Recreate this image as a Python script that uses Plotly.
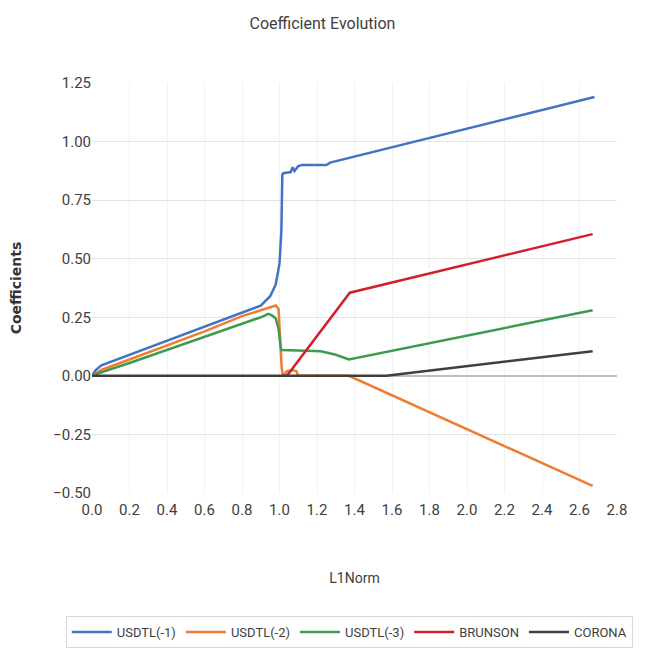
import plotly.graph_objects as go

# L1-norm path of the lasso coefficients
usdtl1_x = [0, 0.02, 0.05, 0.2, 0.4, 0.6, 0.8, 0.9, 0.95, 0.98, 1.0, 1.01, 1.015, 1.02,
            1.06, 1.07, 1.08, 1.1, 1.12, 1.25, 1.27, 2.68]
usdtl1_y = [0, 0.025, 0.045, 0.09, 0.15, 0.21, 0.27, 0.30, 0.34, 0.39, 0.48, 0.62, 0.86, 0.865,
            0.87, 0.89, 0.875, 0.895, 0.90, 0.90, 0.91, 1.19]

usdtl2_x = [0, 0.05, 0.2, 0.4, 0.6, 0.8, 0.9, 0.95, 0.98, 0.995, 1.005, 1.012, 1.02,
            1.04, 1.07, 1.09, 1.1, 1.37, 2.67]
usdtl2_y = [0, 0.025, 0.07, 0.13, 0.19, 0.255, 0.28, 0.295, 0.30, 0.285, 0.15, 0.03, 0.0,
            0.02, 0.025, 0.02, 0.0, 0.0, -0.47]

usdtl3_x = [0, 0.05, 0.2, 0.4, 0.6, 0.8, 0.9, 0.94, 0.96, 0.98, 0.995, 1.005, 1.01,
            1.1, 1.22, 1.25, 1.3, 1.37, 2.67]
usdtl3_y = [0, 0.015, 0.055, 0.11, 0.165, 0.22, 0.25, 0.265, 0.258, 0.245, 0.2, 0.13, 0.11,
            0.108, 0.105, 0.1, 0.09, 0.07, 0.28]

brunson_x = [1.01, 1.04, 1.375, 2.67]
brunson_y = [0, 0.0, 0.355, 0.605]

corona_x = [0, 1.57, 2.67]
corona_y = [0, 0, 0.105]

series = [
    ("USDTL(-1)", usdtl1_x, usdtl1_y, "#4472C4"),
    ("USDTL(-2)", usdtl2_x, usdtl2_y, "#ED7D31"),
    ("USDTL(-3)", usdtl3_x, usdtl3_y, "#3E9A4C"),
    ("BRUNSON", brunson_x, brunson_y, "#D0202E"),
    ("CORONA", corona_x, corona_y, "#3F3F3F"),
]

FONT = "Roboto, sans-serif"

fig = go.Figure()
for name, xs, ys, color in series:
    fig.add_trace(go.Scatter(x=xs, y=ys, mode="lines", name=name,
                             line=dict(color=color, width=2.5)))

fig.update_layout(
    width=645, height=660,
    margin=dict(l=92, r=28, t=83, b=167),
    paper_bgcolor="white", plot_bgcolor="white",
    title=dict(text="Coefficient Evolution", x=0.5, xanchor="center", y=0.965, yanchor="middle",
               font=dict(family=FONT, size=16, color="#404040")),
    showlegend=True,
    legend=dict(orientation="h", x=-0.05, xanchor="left", y=-0.3, yanchor="top",
                bordercolor="#D9D9D9", borderwidth=1, itemwidth=40,
                font=dict(family=FONT, size=13, color="#404040")),
    xaxis=dict(range=[0, 2.8], dtick=0.2, tick0=0, tickformat=".1f",
               showgrid=True, gridcolor="#F2F2F2", zeroline=False, automargin=False,
               showline=False, ticks="", ticklabelstandoff=6,
               tickfont=dict(family=FONT, size=15, color="#404040"),
               title=dict(text="L1Norm", standoff=55,
                          font=dict(family=FONT, size=14, color="#404040"))),
    yaxis=dict(range=[-0.5, 1.25], dtick=0.25, tick0=0, tickformat=".2f",
               showgrid=True, gridcolor="#E3E3E3", zeroline=True, zerolinecolor="#BFBFBF",
               showline=False, ticks="", automargin=False,
               tickfont=dict(family=FONT, size=15, color="#404040"),
               title=dict(text="<b>Coefficients</b>", standoff=28,
                          font=dict(family="DejaVu Sans", size=14, color="#333333"))),
)

fig.write_html("out.html")
